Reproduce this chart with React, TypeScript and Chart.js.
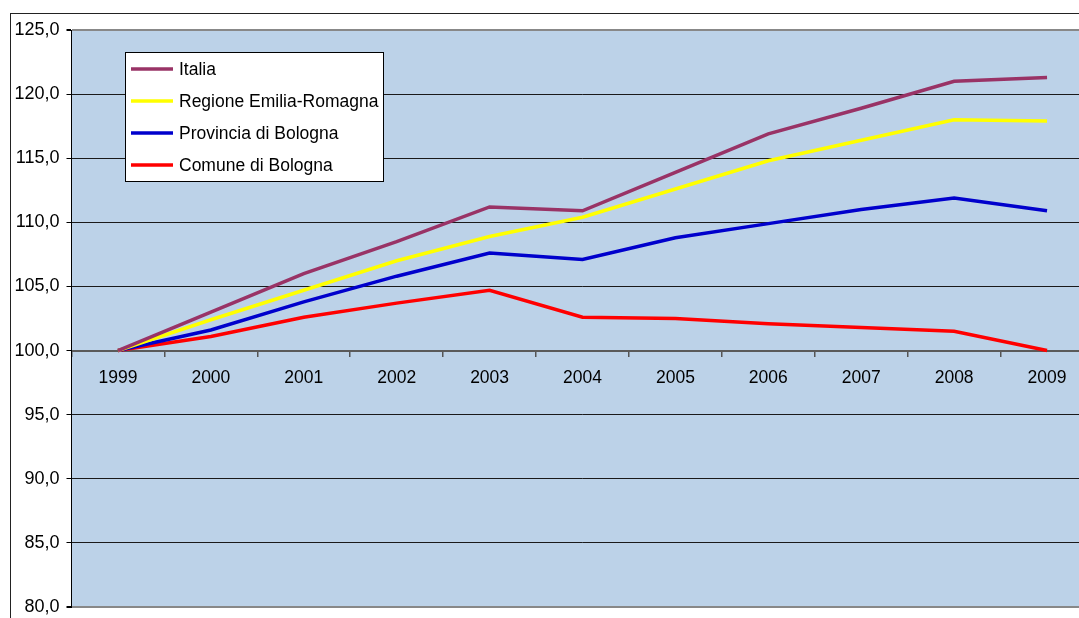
import React, { useEffect, useRef } from "react";
import { Chart, registerables } from "chart.js";

Chart.register(...registerables);

const years = ["1999", "2000", "2001", "2002", "2003", "2004", "2005", "2006", "2007", "2008", "2009"];
const italia = [100, 103.0, 106.0, 108.5, 111.2, 110.9, 113.9, 116.9, 118.9, 121.0, 121.3];
const emilia = [100, 102.4, 104.7, 107.0, 108.9, 110.4, 112.6, 114.8, 116.4, 118.0, 117.9];
const provincia = [100, 101.6, 103.8, 105.8, 107.6, 107.1, 108.8, 109.9, 111.0, 111.9, 110.9];
const comune = [100, 101.1, 102.6, 103.7, 104.7, 102.6, 102.5, 102.1, 101.8, 101.5, 100.0];

const seriesLabels = ["Italia", "Regione Emilia-Romagna", "Provincia di Bologna", "Comune di Bologna"];
const seriesColors = ["#993366", "#FFFF00", "#0000CC", "#FF0000"];

const FONT = '"Liberation Sans", Arial, sans-serif';

const bgPlugin = {
  id: "plotBg",
  beforeDraw(chart: any) {
    const { ctx, chartArea } = chart;
    ctx.save();
    ctx.fillStyle = "#BCD2E8";
    ctx.fillRect(chartArea.left, chartArea.top, chartArea.right - chartArea.left, chartArea.bottom - chartArea.top);
    ctx.restore();
  },
};

const legendPlugin = {
  id: "boxLegend",
  afterDraw(chart: any) {
    const { ctx, chartArea } = chart;
    const x0 = chartArea.left + 53.5;
    const y0 = chartArea.top + 22;
    ctx.save();
    ctx.font = `17.5px ${FONT}`;
    let maxW = 0;
    chart.data.datasets.forEach((d: any) => {
      maxW = Math.max(maxW, ctx.measureText(d.label).width);
    });
    const w = 54 + maxW + 5;
    const h = 129;
    ctx.fillStyle = "#FFFFFF";
    ctx.fillRect(x0, y0, w, h);
    ctx.strokeStyle = "#000000";
    ctx.lineWidth = 1;
    ctx.strokeRect(Math.round(x0) + 0.5, Math.round(y0) + 0.5, Math.round(w), h);
    chart.data.datasets.forEach((d: any, i: number) => {
      const cy = y0 + 17 + 32 * i;
      ctx.strokeStyle = d.borderColor;
      ctx.lineWidth = 3.5;
      ctx.beginPath();
      ctx.moveTo(x0 + 6, cy);
      ctx.lineTo(x0 + 48, cy);
      ctx.stroke();
      ctx.fillStyle = "#000000";
      ctx.textBaseline = "middle";
      ctx.textAlign = "left";
      ctx.fillText(d.label, x0 + 54, cy + 1);
    });
    ctx.restore();
  },
};

export default function App() {
  const ref = useRef<HTMLCanvasElement | null>(null);

  useEffect(() => {
    if (!ref.current) return;
    const seriesData = [italia, emilia, provincia, comune];
    const chart = new Chart(ref.current, {
      type: "line",
      data: {
        labels: years,
        datasets: seriesData.map((d, i) => ({
          label: seriesLabels[i],
          data: d,
          borderColor: seriesColors[i],
          backgroundColor: seriesColors[i],
          borderWidth: 3.5,
          pointRadius: 0,
          tension: 0,
          fill: false,
        })),
      },
      options: {
        animation: false,
        responsive: false,
        devicePixelRatio: 1,
        layout: { padding: { top: 30, bottom: 33, right: 26.5, left: 0 } },
        plugins: { legend: { display: false }, tooltip: { enabled: false } },
        scales: {
          x: {
            type: "category",
            position: { y: 100 } as any,
            offset: true,
            grid: {
              display: true,
              drawOnChartArea: false,
              drawTicks: true,
              tickLength: 5,
              offset: true,
              color: "#555555",
              lineWidth: 1.5,
            },
            border: { display: true, color: "#5a5a5a", width: 2 },
            ticks: {
              color: "#000000",
              font: { family: FONT, size: 17.5 },
              padding: 12,
              maxRotation: 0,
              autoSkip: false,
            },
          },
          y: {
            min: 80,
            max: 125,
            afterFit(scale: any) {
              scale.width = 71.5;
            },
            grid: {
              color: (c: any) => {
                const v = c.tick ? c.tick.value : null;
                if (v === 125 || v === 80) return "#888888";
                if (v === 100) return "#5a5a5a";
                return "#1a1a1a";
              },
              tickColor: "#000000",
              tickLength: 5,
              lineWidth: (c: any) => (c.tick && (c.tick.value === 125 || c.tick.value === 80) ? 2 : 1),
            },
            border: { display: true, color: "#000000", width: 1 },
            ticks: {
              stepSize: 5,
              padding: 7,
              color: "#000000",
              font: { family: FONT, size: 18 },
              callback: (v: any) => Number(v).toFixed(1).replace(".", ","),
            },
          },
        },
      },
      plugins: [bgPlugin, legendPlugin],
    });
    return () => chart.destroy();
  }, []);

  return (
    <div
      style={{
        position: "fixed",
        left: 0,
        top: 0,
        width: 1079,
        height: 618,
        overflow: "hidden",
        background: "#FFFFFF",
      }}
    >
      <div
        style={{
          position: "absolute",
          left: 10,
          top: 13,
          width: 1300,
          height: 800,
          border: "1px solid #222222",
          boxSizing: "border-box",
        }}
      />
      <canvas
        ref={ref}
        width={1120}
        height={640}
        style={{ position: "absolute", left: 0, top: 0, display: "block", width: 1120, height: 640 }}
      />
    </div>
  );
}
